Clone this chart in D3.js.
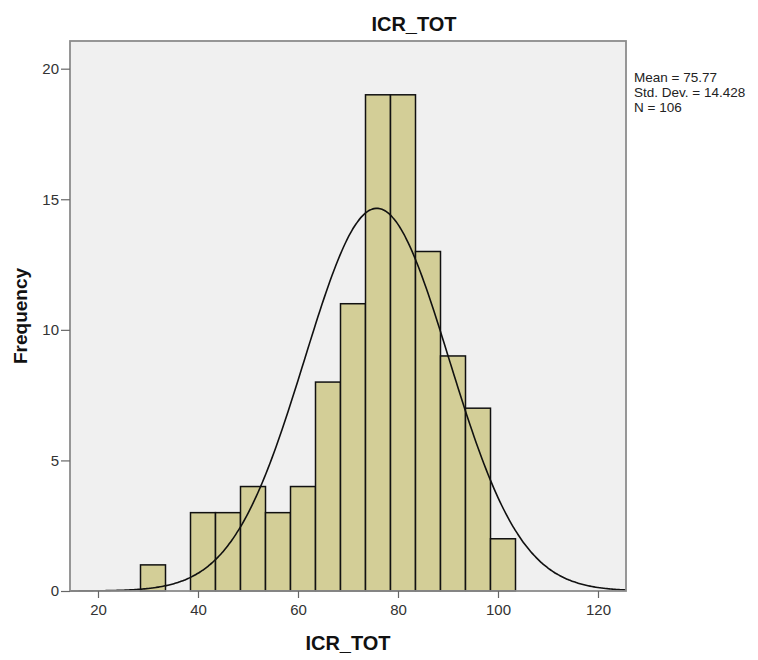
<!DOCTYPE html>
<html>
<head>
<meta charset="utf-8">
<script src="https://cdn.jsdelivr.net/npm/d3@7"></script>
<style>
  body { margin: 0; background: #fff; }
  svg text { font-family: "Liberation Sans", Arial, sans-serif; }
</style>
</head>
<body>
<div id="chart"></div>
<script>
var width = 758;
var height = 660;

// histogram bins (lower edge) and counts
var binStarts = [28.5, 33.5, 38.5, 43.5, 48.5, 53.5, 58.5, 63.5, 68.5, 73.5, 78.5, 83.5, 88.5, 93.5, 98.5];
var counts = [1, 0, 3, 3, 4, 3, 4, 8, 11, 19, 19, 13, 9, 7, 2];
var binWidth = 5;

// summary stats shown in the legend
var mean = 75.77;
var stdDev = 14.428;
var n = 106;

var xTicks = [20, 40, 60, 80, 100, 120];
var yTicks = [0, 5, 10, 15, 20];
var statLines = ["Mean = 75.77", "Std. Dev. = 14.428", "N = 106"];

var bins = binStarts.map(function (d, i) {
  return { x0: d, x1: d + binWidth, count: counts[i] };
});

// plot box (window.top is reserved, so use plot* names)
var plotLeft = 70, plotRight = 626, plotTop = 41, plotBottom = 591;

var xScale = d3.scaleLinear().domain([14.4, 125.6]).range([plotLeft, plotRight]);
var yScale = d3.scaleLinear().domain([0, 21.06]).range([plotBottom, plotTop]);

var svg = d3.select("#chart")
  .append("svg")
  .attr("width", width)
  .attr("height", height);

// plot background
svg.append("rect")
  .attr("x", plotLeft)
  .attr("y", plotTop)
  .attr("width", plotRight - plotLeft)
  .attr("height", plotBottom - plotTop)
  .attr("fill", "#f0f0f0");

// bars
svg.append("g")
  .selectAll("rect")
  .data(bins.filter(function (d) { return d.count > 0; }))
  .enter()
  .append("rect")
  .attr("x", function (d) { return xScale(d.x0); })
  .attr("y", function (d) { return yScale(d.count); })
  .attr("width", function (d) { return xScale(d.x1) - xScale(d.x0); })
  .attr("height", function (d) { return yScale(0) - yScale(d.count); })
  .attr("fill", "#d3ce97")
  .attr("stroke", "#111")
  .attr("stroke-width", 1.5);

// fitted normal curve (scaled to counts)
var curvePts = d3.range(14.4, 125.61, 0.4).map(function (x) {
  var z = (x - mean) / stdDev;
  return [x, n * binWidth * Math.exp(-0.5 * z * z) / (stdDev * Math.sqrt(2 * Math.PI))];
});

var line = d3.line()
  .x(function (d) { return xScale(d[0]); })
  .y(function (d) { return yScale(d[1]); })
  .curve(d3.curveBasis);

svg.append("path")
  .datum(curvePts)
  .attr("d", line)
  .attr("fill", "none")
  .attr("stroke", "#111")
  .attr("stroke-width", 1.6);

// frame
svg.append("rect")
  .attr("x", plotLeft)
  .attr("y", plotTop)
  .attr("width", plotRight - plotLeft)
  .attr("height", plotBottom - plotTop)
  .attr("fill", "none")
  .attr("stroke", "#8c8c8c")
  .attr("stroke-width", 1.8);

// axes
var xAxis = d3.axisBottom(xScale).tickValues(xTicks).tickSize(7).tickPadding(6);
var yAxis = d3.axisLeft(yScale).tickValues(yTicks).tickSize(9).tickPadding(2);

var gx = svg.append("g")
  .attr("transform", "translate(0," + plotBottom + ")")
  .call(xAxis);
var gy = svg.append("g")
  .attr("transform", "translate(" + plotLeft + ",0)")
  .call(yAxis);

[gx, gy].forEach(function (g) {
  g.select(".domain").remove();
  g.selectAll(".tick line").attr("stroke", "#666").attr("stroke-width", 1.2);
  g.selectAll(".tick text")
    .attr("fill", "#333")
    .style("font-size", "15px")
    .style("font-family", "'Liberation Sans', Arial, sans-serif");
});

// titles
svg.append("text")
  .attr("x", 414)
  .attr("y", 31)
  .attr("text-anchor", "middle")
  .attr("font-size", "20px")
  .attr("font-weight", "bold")
  .attr("fill", "#111")
  .text("ICR_TOT");

svg.append("text")
  .attr("x", 348)
  .attr("y", 650)
  .attr("text-anchor", "middle")
  .attr("font-size", "20px")
  .attr("font-weight", "bold")
  .attr("fill", "#111")
  .text("ICR_TOT");

svg.append("text")
  .attr("transform", "translate(27,316) rotate(-90)")
  .attr("text-anchor", "middle")
  .attr("font-size", "19px")
  .attr("font-weight", "bold")
  .attr("fill", "#111")
  .text("Frequency");

// stats legend
svg.append("g")
  .selectAll("text")
  .data(statLines)
  .enter()
  .append("text")
  .attr("x", 634)
  .attr("y", function (d, i) { return 82 + i * 15; })
  .attr("font-size", "13.5px")
  .attr("fill", "#222")
  .text(function (d) { return d; });
</script>
</body>
</html>
